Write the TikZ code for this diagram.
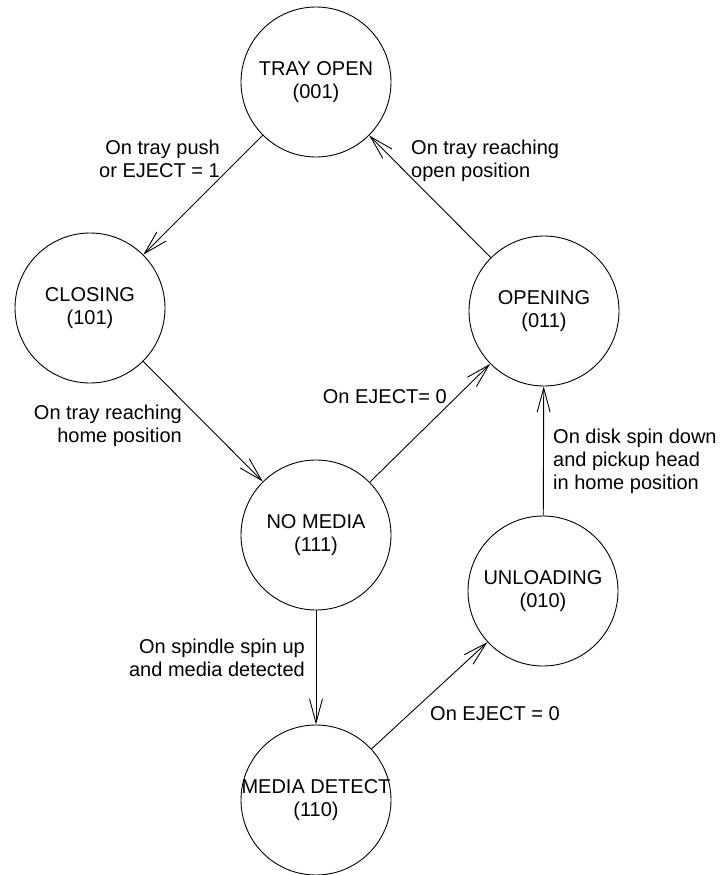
\documentclass[tikz,border=0pt]{standalone}
\usepackage{fontspec}
\setmainfont{Liberation Sans}
\usepackage{tikz}
\usetikzlibrary{shapes, arrows.meta, positioning}
\tikzset{
    state/.style={circle, draw, line width=0.9pt, minimum size=150pt, inner xsep=-30pt, inner ysep=0pt, align=center},
    cond/.style={inner sep=0pt},
    arrow/.style={line width=0.9pt, -{Straight Barb[length=24pt, width=13pt]}}
}
\begin{document}
\begin{tikzpicture}[x=1pt, y=-1pt, font=\fontsize{20pt}{23pt}\selectfont]
    \useasboundingbox (0,0) rectangle (720,875);

    % States
    \node (tray) [state] at (316,82) {TRAY OPEN\\(001)};
    \node (closing) [state] at (90,308) {CLOSING\\(101)};
    \node (opening) [state] at (544,311) {OPENING\\(011)};
    \node (nomedia) [state] at (316,535) {NO MEDIA\\(111)};
    \node (unloading) [state] at (543,591) {UNLOADING\\(010)};
    \node (detect) [state] at (316,800) {MEDIA DETECT\\(110)};

    % Transitions
    \draw [arrow] (tray) -- (closing);
    \draw [arrow] (closing) -- (nomedia);
    \draw [arrow] (nomedia) -- (opening);
    \draw [arrow] (opening) -- (tray);
    \draw [arrow] (nomedia) -- (detect);
    \draw [arrow] (detect) -- (unloading);
    \draw [arrow] (unloading) -- (opening);

    % Conditions
    \node (pushcond) [cond, anchor=north east, align=right] at (220,140) {On tray push\\or EJECT = 1};
    \node (opencond) [cond, anchor=north west, align=left] at (411,140) {On tray reaching\\open position};
    \node (homecond) [cond, anchor=north east, align=right] at (182,405) {On tray reaching\\home position};
    \node (ejectcond) [cond, anchor=north east] at (447,389) {On EJECT= 0};
    \node (spindowncond) [cond, anchor=north west, align=left] at (553,429) {On disk spin down\\and pickup head\\in home position};
    \node (spinupcond) [cond, anchor=north east, align=right] at (305,639) {On spindle spin up\\and media detected};
    \node (unloadcond) [cond, anchor=north west] at (430,706) {On EJECT = 0};

\end{tikzpicture}
\end{document}
